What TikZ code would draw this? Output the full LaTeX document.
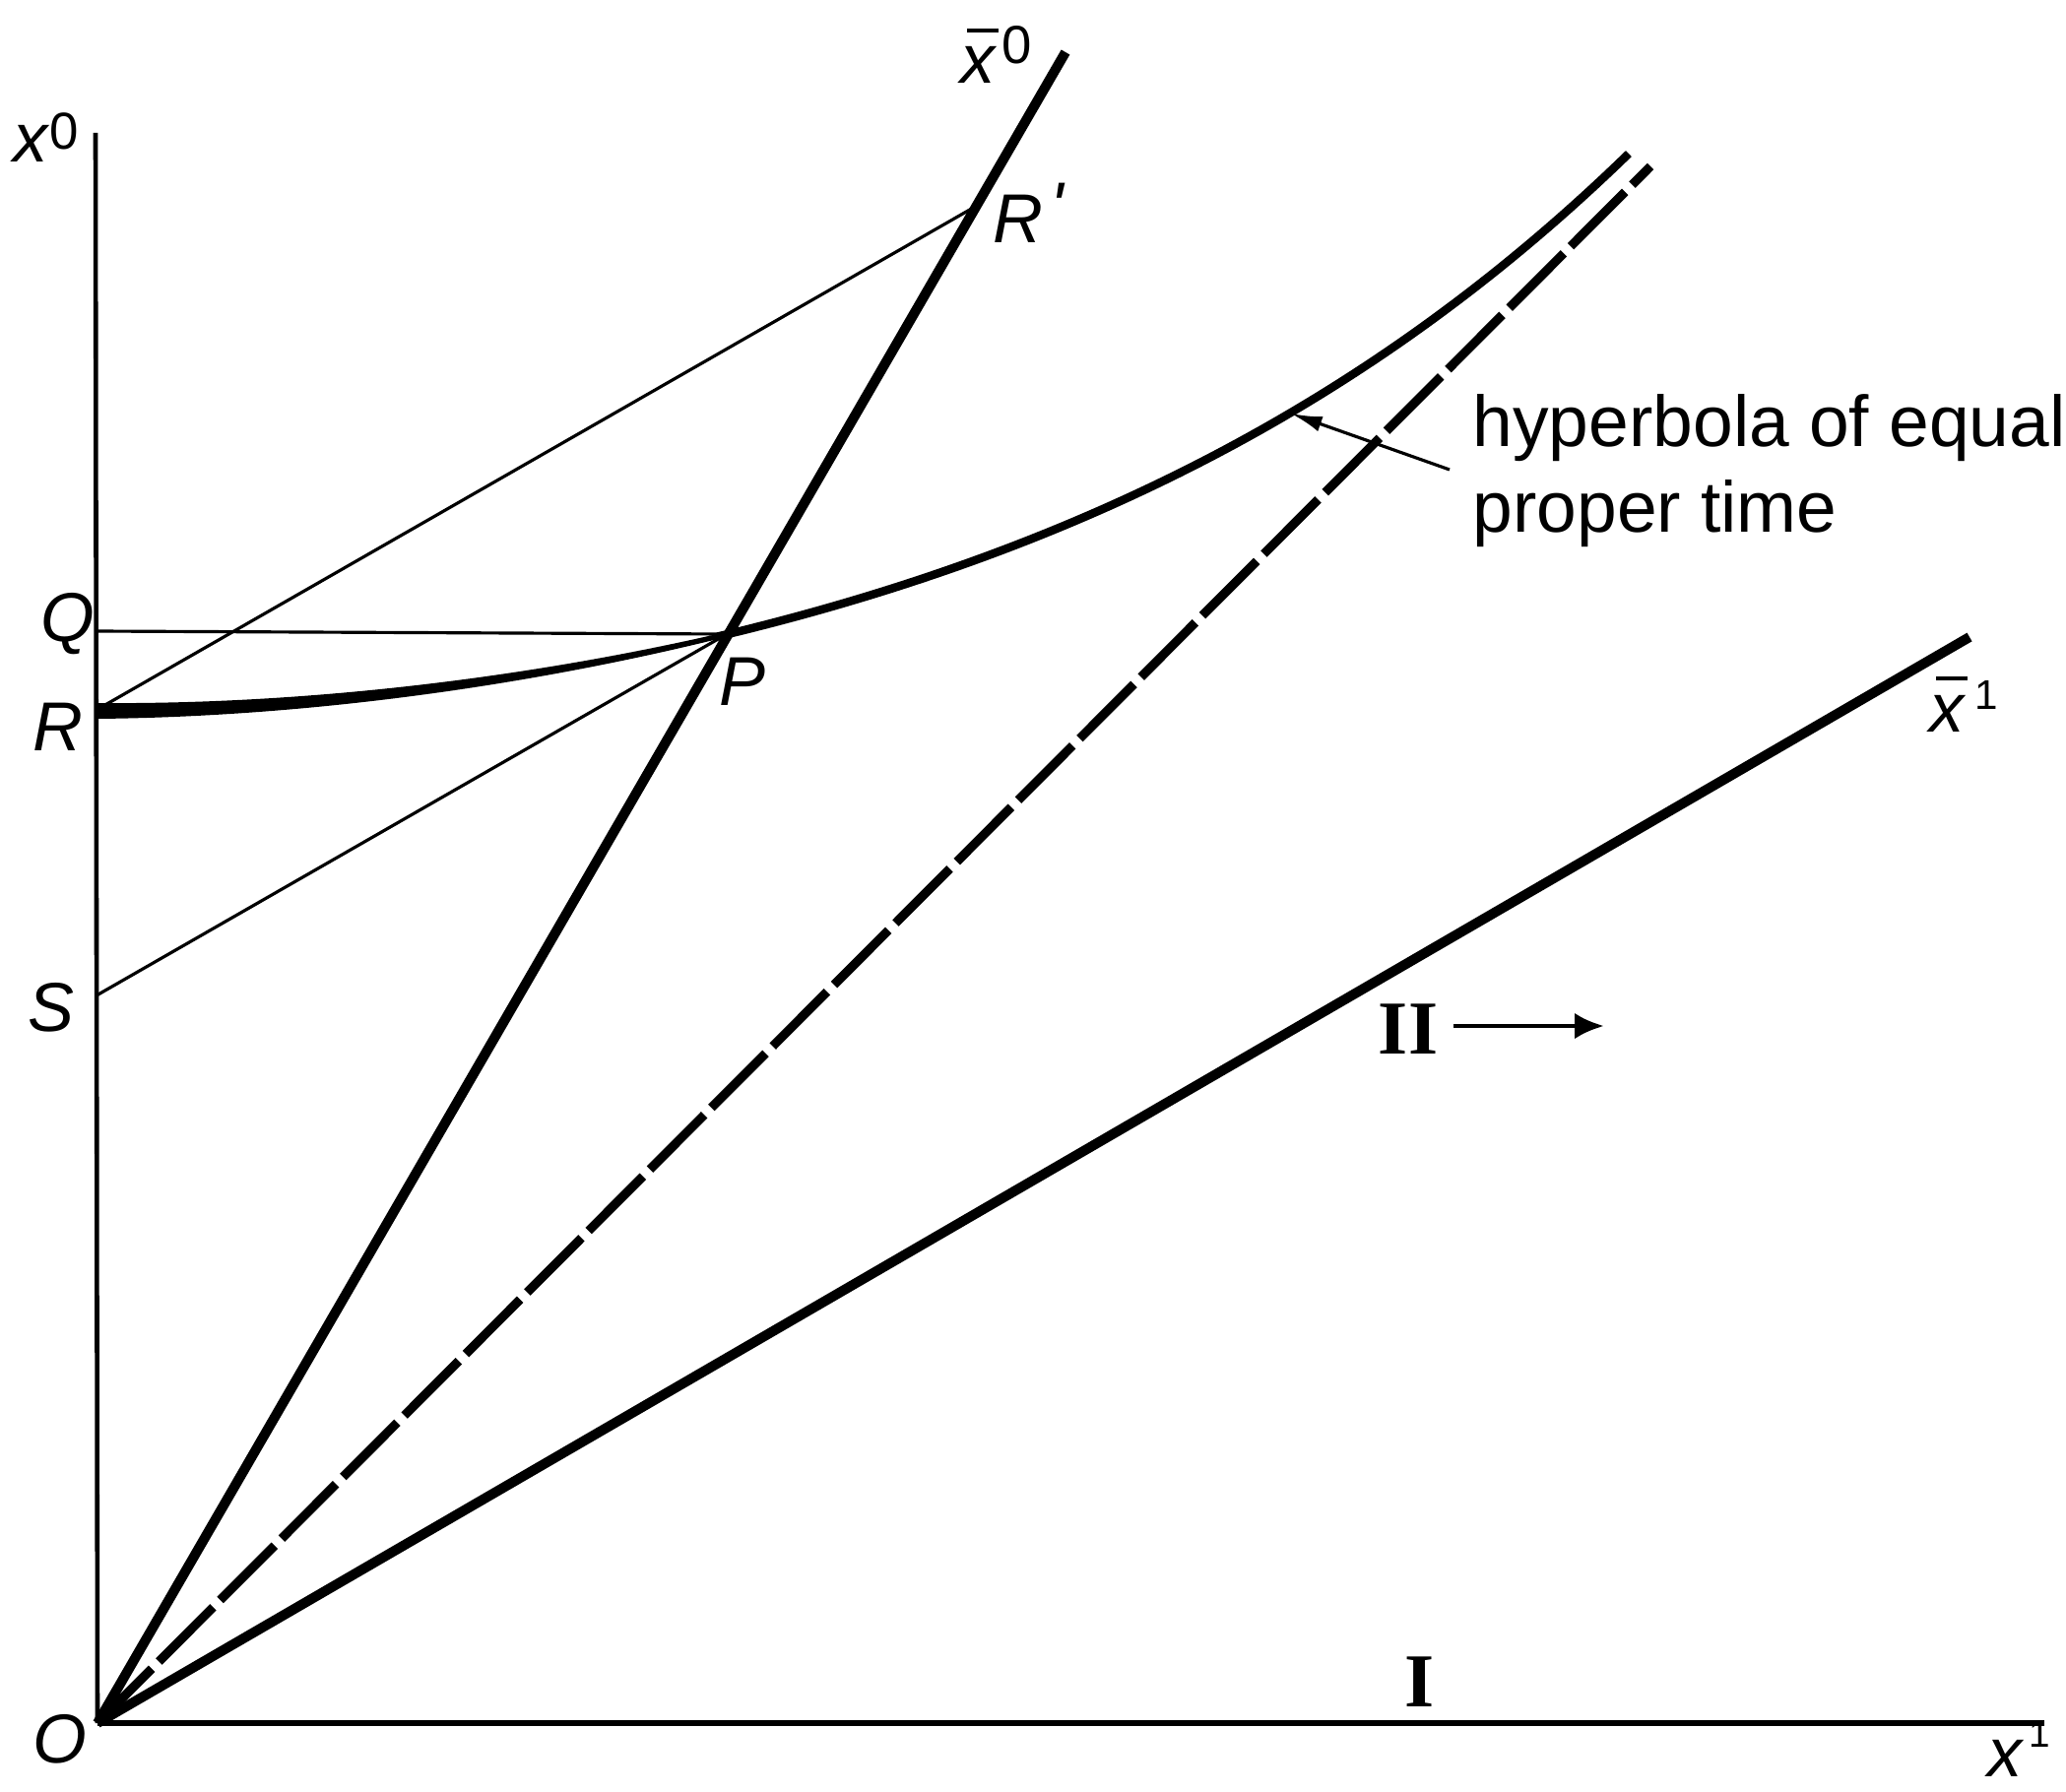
\documentclass[tikz,border=0pt]{standalone}
\usepackage{fontspec}
\setmainfont{Liberation Sans}
\newfontfamily\romanfont{Liberation Serif}
\usetikzlibrary{arrows.meta}
\newcommand{\lblfont}{\fontsize{20}{24}\selectfont\itshape}
\newcommand{\hypfont}{\fontsize{20.8}{25}\selectfont}
\newcommand{\supnum}[3]{\raisebox{#1}{\fontsize{#2}{#2}\selectfont\upshape #3}}
\newcommand{\xbar}{\rlap{\kern0.09em\rule[0.74em]{0.45em}{0.06em}}x}
\begin{document}
\begin{tikzpicture}[x=0.01cm,y=-0.01cm,
  declare function={hD(\u)=525*\u*\u-297.4*\u*\u*\u+339.4*\u*\u*\u*\u; hW(\u)=16-11*\u/0.411;},
  thinline/.style={line width=0.9pt},
  axisline/.style={line width=1.3pt},
  worldline/.style={line width=2.85pt},
  hyperline/.style={line width=2.4pt},
  lightline/.style={line width=2.6pt, dash pattern=on 22.2pt off 2.9pt},
  lab/.style={inner sep=0pt, anchor=base west, font=\lblfont},
  roman/.style={inner sep=0pt, anchor=base, font=\romanfont\bfseries\fontsize{22}{22}\selectfont},
  hyptext/.style={inner sep=0pt, anchor=base west, font=\hypfont}]
\useasboundingbox (0,0) rectangle (2098,1819);
% key points
\coordinate (O) at (99,1750);
\coordinate (X0end) at (97,135);
\coordinate (X1end) at (2076,1750);
\coordinate (Xb0end) at (1082,53);
\coordinate (Xb1end) at (2000,647);
\coordinate (Lend) at (1676,169);
\coordinate (P) at (738,644);
\coordinate (Rp) at (990,210);
\coordinate (Q) at (98,641);
\coordinate (R) at (98,721);
\coordinate (S) at (98,1011);
\coordinate (HArrTail) at (1472,477);
\coordinate (HArrTip) at (1311,420);
\coordinate (IIa) at (1476,1042);
\coordinate (IIb) at (1629,1042);
% axes
\draw[axisline] (O) -- (X0end);
\draw[line width=1.5pt] (O) -- (X1end);
% frame II axes and light line
\draw[worldline] (O) -- (Xb0end);
\draw[worldline] (O) -- (Xb1end);
\draw[lightline] (O) -- (Lend);
% thin construction lines
\draw[thinline] (Q) -- (P);
\draw[thinline] (R) -- (Rp);
\draw[thinline] (S) -- (P);
% hyperbola of equal proper time: tapered part from R to P, then uniform
\fill plot[domain=0:0.411, samples=50, variable=\u] ({98+1557*\u}, {722-hD(\u)-hW(\u)/2})
  -- plot[domain=0:0.411, samples=50, variable=\u] ({98+1557*(0.411-\u)}, {722-hD(0.411-\u)+hW(0.411-\u)/2}) -- cycle;
\draw[hyperline] plot[domain=0.405:1, samples=80, variable=\u] ({98+1557*\u}, {722-hD(\u)});
% arrows
\draw[thinline, -{Latex[length=9pt,width=4.5pt]}] (HArrTail) -- (HArrTip);
\draw[line width=1.4pt, -{Latex[length=8.5pt,width=7.5pt]}] (IIa) -- (IIb);
% labels
\node[lab] (lx0) at (13,165) {x\kern0.5pt\supnum{3.7pt}{15}{0}};
\node[lab] (lxb0) at (975,85) {\xbar\kern2pt\supnum{5.7pt}{15.5}{0}};
\node[lab] (lRp) at (1008,247) {R\kern2pt\raisebox{0.18em}{\textquotesingle}};
\node[lab] (lP) at (730,716) {P};
\node[lab] (lQ) at (41,651) {Q};
\node[lab] (lR) at (33,762) {R};
\node[lab] (lS) at (28,1047) {S};
\node[lab] (lO) at (33,1790) {O};
\node[lab] (lx1) at (2018,1804) {x\kern2pt\supnum{8.5pt}{11}{1}};
\node[lab] (lxb1) at (1959,743) {\xbar\kern3pt\supnum{6.5pt}{12}{1}};
\node[roman] (lI) at (1442,1733) {I};
\node[roman] (lII) at (1430,1070) {II};
\node[hyptext] (ht1) at (1495,454) {hyperbola of equal};
\node[hyptext] (ht2) at (1495,541) {proper time};
\end{tikzpicture}
\end{document}
